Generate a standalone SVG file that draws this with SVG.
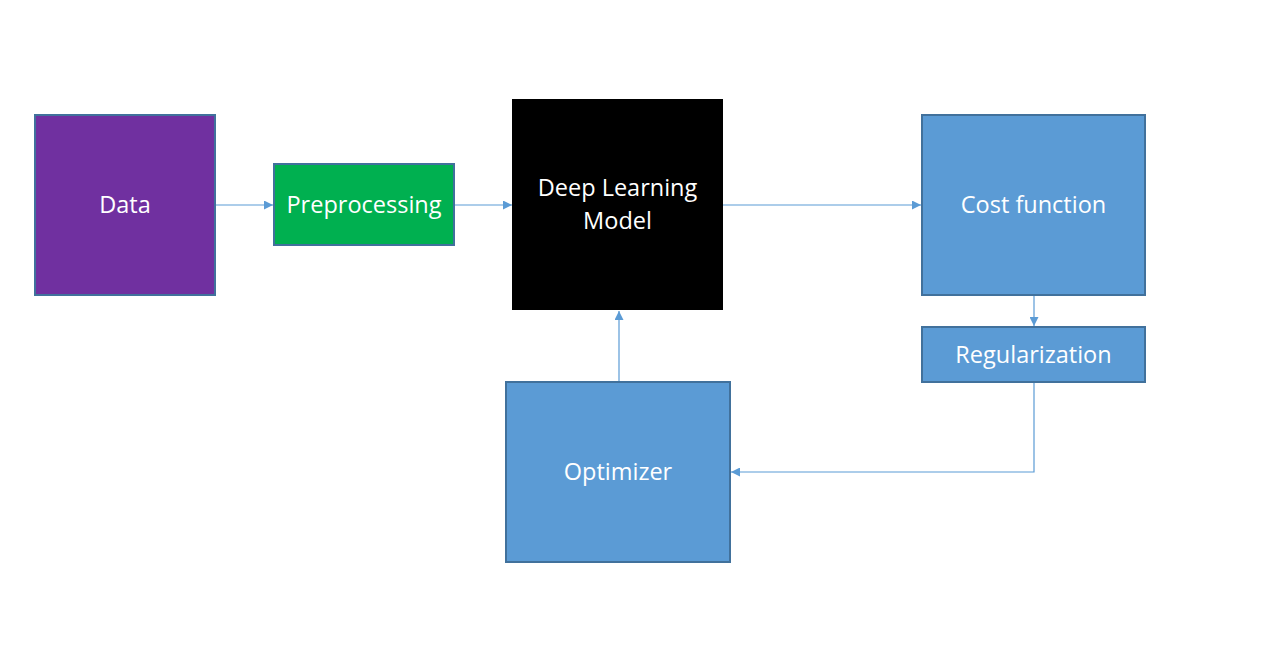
<svg xmlns="http://www.w3.org/2000/svg" width="1282" height="650" viewBox="0 0 1282 650">
<defs>
<style>
.box{stroke:#41719C;stroke-width:2}
.t{font-family:"Open Sans","Liberation Sans",sans-serif;font-size:23.5px;fill:#ffffff;text-anchor:middle;dominant-baseline:central}
.c{fill:none;stroke:#5B9BD5;stroke-width:1.2}
</style>
<marker id="ah" viewBox="0 0 10 10" refX="10" refY="5" markerWidth="9" markerHeight="9" markerUnits="userSpaceOnUse" orient="auto">
<path d="M0,0 L10,5 L0,10 z" fill="#5B9BD5"/>
</marker>
</defs>
<rect width="1282" height="650" fill="#ffffff"/>
<g id="connectors">
<line class="c" x1="215" y1="205" x2="273" y2="205" marker-end="url(#ah)"/>
<line class="c" x1="454" y1="205" x2="512" y2="205" marker-end="url(#ah)"/>
<line class="c" x1="723" y1="205" x2="921" y2="205" marker-end="url(#ah)"/>
<line class="c" x1="1034" y1="295" x2="1034" y2="326" marker-end="url(#ah)"/>
<polyline class="c" points="1034,382 1034,472 731,472" marker-end="url(#ah)"/>
<line class="c" x1="619" y1="382" x2="619" y2="311" marker-end="url(#ah)"/>
</g>
<g id="data">
<rect class="box" x="35" y="115" width="180" height="180" fill="#7030A0"/>
<text class="t" x="125" y="204">Data</text>
</g>
<g id="preprocessing">
<rect class="box" x="274" y="164" width="180" height="81" fill="#00B050"/>
<text class="t" x="364" y="204">Preprocessing</text>
</g>
<g id="model">
<rect x="512" y="99" width="211" height="211" fill="#000000"/>
<text class="t" x="617.5" y="187">Deep Learning</text>
<text class="t" x="617.5" y="220">Model</text>
</g>
<g id="cost">
<rect class="box" x="922" y="115" width="223" height="180" fill="#5B9BD5"/>
<text class="t" x="1033.5" y="204">Cost function</text>
</g>
<g id="regularization">
<rect class="box" x="922" y="327" width="223" height="55" fill="#5B9BD5"/>
<text class="t" x="1033.5" y="354">Regularization</text>
</g>
<g id="optimizer">
<rect class="box" x="506" y="382" width="224" height="180" fill="#5B9BD5"/>
<text class="t" x="618" y="471">Optimizer</text>
</g>
</svg>
